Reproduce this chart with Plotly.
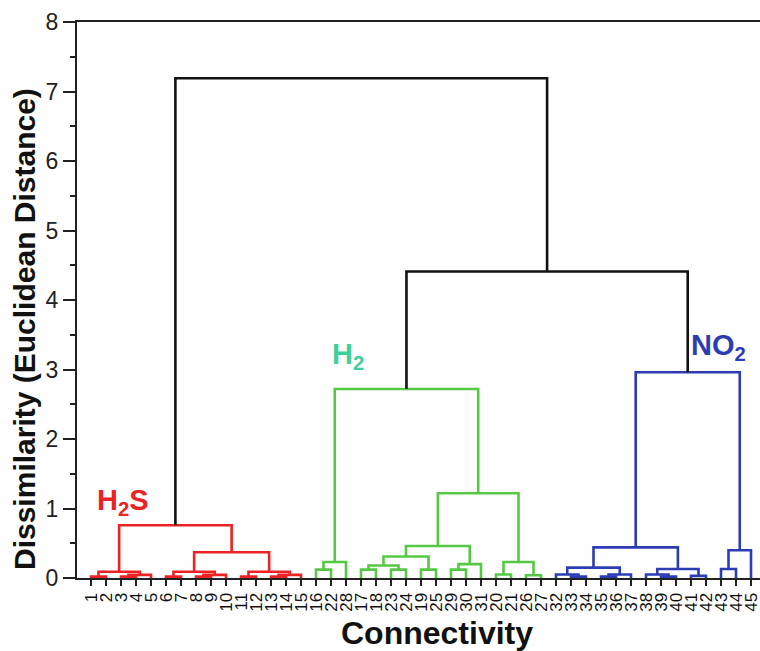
import plotly.graph_objects as go

# Leaf order along the x axis (sample numbers)
leaf_order = [1, 2, 3, 4, 5, 6, 7, 8, 9, 10, 11, 12, 13, 14, 15,
              16, 22, 28, 17, 18, 23, 24, 19, 25, 29, 30, 31, 20, 21, 26, 27,
              32, 33, 34, 35, 36, 37, 38, 39, 40, 41, 42, 43, 44, 45]

# Merges: (new node, left child, right child, merge height)
h2s_merges = [
    ("a12", 1, 2, 0.02),
    ("a34", 3, 4, 0.02),
    ("a345", "a34", 5, 0.045),
    ("A", "a12", "a345", 0.09),
    ("b67", 6, 7, 0.02),
    ("b89", 8, 9, 0.02),
    ("b8910", "b89", 10, 0.045),
    ("B", "b67", "b8910", 0.09),
    ("c1112", 11, 12, 0.02),
    ("c1314", 13, 14, 0.02),
    ("c131415", "c1314", 15, 0.045),
    ("C", "c1112", "c131415", 0.09),
    ("BC", "B", "C", 0.37),
    ("H2S", "A", "BC", 0.76),
]

h2_merges = [
    ("g1622", 16, 22, 0.12),
    ("g16_28", "g1622", 28, 0.23),
    ("g1718", 17, 18, 0.12),
    ("g2324", 23, 24, 0.12),
    ("g17_24", "g1718", "g2324", 0.18),
    ("g1925", 19, 25, 0.12),
    ("g17_25", "g17_24", "g1925", 0.31),
    ("g2930", 29, 30, 0.12),
    ("g29_31", "g2930", 31, 0.20),
    ("g17_31", "g17_25", "g29_31", 0.46),
    ("g2021", 20, 21, 0.05),
    ("g2627", 26, 27, 0.04),
    ("g20_27", "g2021", "g2627", 0.23),
    ("g17_27", "g17_31", "g20_27", 1.22),
    ("H2", "g16_28", "g17_27", 2.72),
]

no2_merges = [
    ("n3334", 33, 34, 0.02),
    ("n32_34", 32, "n3334", 0.05),
    ("n3536", 35, 36, 0.02),
    ("n35_37", "n3536", 37, 0.05),
    ("n32_37", "n32_34", "n35_37", 0.15),
    ("n3940", 39, 40, 0.02),
    ("n38_40", 38, "n3940", 0.05),
    ("n4142", 41, 42, 0.03),
    ("n38_42", "n38_40", "n4142", 0.13),
    ("n32_42", "n32_37", "n38_42", 0.44),
    ("n4344", 43, 44, 0.13),
    ("n43_45", "n4344", 45, 0.40),
    ("NO2", "n32_42", "n43_45", 2.96),
]

top_merges = [
    ("H2_NO2", "H2", "NO2", 4.41),
    ("root", "H2S", "H2_NO2", 7.19),
]

groups = [
    (h2s_merges, "#ec2224"),
    (h2_merges, "#55c944"),
    (no2_merges, "#2c3cb2"),
    (top_merges, "#111111"),
]

# position and height of every node (leaves sit at height 0)
pos = {leaf: i + 1 for i, leaf in enumerate(leaf_order)}
height = {leaf: 0.0 for leaf in leaf_order}
for merges, _ in groups:
    for node, left, right, h in merges:
        pos[node] = (pos[left] + pos[right]) / 2
        height[node] = h

fig = go.Figure()
for merges, color in groups:
    xs, ys = [], []
    for node, left, right, h in merges:
        xs += [pos[left], pos[left], pos[right], pos[right], None]
        ys += [height[left], h, h, height[right], None]
    fig.add_trace(go.Scatter(x=xs, y=ys, mode="lines",
                             line=dict(color=color, width=2.6),
                             hoverinfo="skip", showlegend=False))

FONT = "Liberation Sans, Arial, sans-serif"
AX = "#222222"

fig.update_layout(
    width=760, height=651,
    margin=dict(l=77, r=0, t=22, b=73),
    plot_bgcolor="white", paper_bgcolor="white",
    font=dict(family=FONT, color="#111111"),
    showlegend=False,
    xaxis=dict(
        range=[1 / 15, 684 / 15],
        tickmode="array",
        tickvals=list(range(1, len(leaf_order) + 1)),
        ticktext=[str(v) for v in leaf_order],
        tickangle=-90,
        ticks="outside", ticklen=6, tickwidth=1.5, tickcolor=AX,
        tickfont=dict(size=17, color="#111111"),
        ticklabeloverflow="allow",
        showline=True, linewidth=2, linecolor=AX, mirror=True,
        showgrid=False, zeroline=False,
    ),
    yaxis=dict(
        range=[0, 8], dtick=1, tick0=0,
        ticks="outside", ticklen=12, tickwidth=2, tickcolor=AX,
        minor=dict(dtick=0.5, ticks="outside", ticklen=5, tickwidth=2,
                   tickcolor=AX, showgrid=False),
        tickfont=dict(size=23, color="#222222"),
        showline=True, linewidth=2, linecolor=AX,
        showgrid=False, zeroline=False,
    ),
    annotations=[
        dict(text="<b>Dissimilarity (Euclidean Distance)</b>",
             xref="paper", yref="paper", x=(24 - 77) / 683, y=(578 - 329) / 556,
             textangle=-90, showarrow=False, xanchor="center", yanchor="middle",
             font=dict(size=30, color="#111111", family=FONT)),
        dict(text="<b>Connectivity</b>",
             xref="paper", yref="paper", x=(437 - 77) / 683, y=-(633 - 578) / 556,
             showarrow=False, xanchor="center", yanchor="middle",
             font=dict(size=32, color="#111111", family=FONT)),
        dict(text="<b>H<sub>2</sub>S</b>", x=3.1, y=1.1,
             xref="x", yref="y", showarrow=False, xanchor="center", yanchor="middle",
             font=dict(size=29, color="#ec2224", family=FONT)),
        dict(text="<b>H<sub>2</sub></b>", x=18.1, y=3.2,
             xref="x", yref="y", showarrow=False, xanchor="center", yanchor="middle",
             font=dict(size=29, color="#3fcf9b", family=FONT)),
        dict(text="<b>NO<sub>2</sub></b>", x=42.8, y=3.32,
             xref="x", yref="y", showarrow=False, xanchor="center", yanchor="middle",
             font=dict(size=29, color="#2c3cb2", family=FONT)),
    ],
)

fig.write_html("out.html")
